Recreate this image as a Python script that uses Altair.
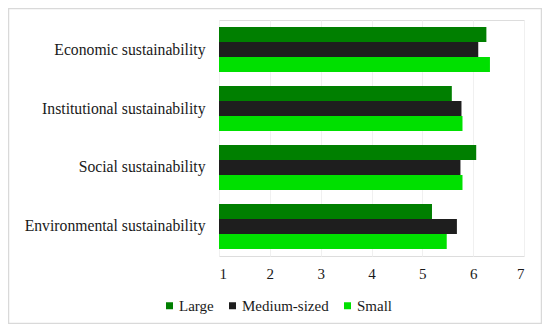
import altair as alt
import pandas as pd

categories = ["Economic sustainability", "Institutional sustainability",
              "Social sustainability", "Environmental sustainability"]
sizes = ["Large", "Medium-sized", "Small"]
large = [6.26, 5.58, 6.06, 5.19]
medium = [6.10, 5.77, 5.75, 5.68]
small = [6.33, 5.79, 5.79, 5.48]
colors = ["#007f00", "#1e1e1e", "#00e000"]
x_ticks = [1, 2, 3, 4, 5, 6, 7]

rows = []
for i, c in enumerate(categories):
    for s, vals in zip(sizes, [large, medium, small]):
        rows.append({"category": c, "size": s, "value": vals[i], "base": 1})
df = pd.DataFrame(rows)

FONT = "Liberation Serif"

bars = alt.Chart(df).mark_bar(size=15).encode(
    y=alt.Y("category:N", sort=categories,
            scale=alt.Scale(paddingInner=0.237, paddingOuter=0.119),
            axis=alt.Axis(title=None, ticks=False, domain=False, labelPadding=14,
                          labelFontSize=15.7, labelFont=FONT, labelColor="#1a1a1a",
                          labelLimit=300)),
    yOffset=alt.YOffset("size:N", sort=sizes, scale=alt.Scale(paddingInner=0, paddingOuter=0)),
    x=alt.X("base:Q", scale=alt.Scale(domain=[1, 7], nice=False, zero=False),
            axis=alt.Axis(title=None, values=x_ticks, ticks=False, domain=False,
                          labelPadding=10, labelFontSize=15, labelFont=FONT,
                          labelColor="#1a1a1a", grid=True, gridColor="#f0f0f0")),
    x2="value:Q",
    color=alt.Color("size:N", sort=sizes,
                    scale=alt.Scale(domain=sizes, range=colors),
                    legend=alt.Legend(title=None, orient="none", direction="horizontal",
                                      legendX=-57, legendY=278, symbolType="square",
                                      symbolSize=49, symbolStrokeWidth=0,
                                      labelFontSize=15, labelFont=FONT,
                                      labelColor="#1a1a1a", labelOffset=2,
                                      columnPadding=11)),
)

frame = alt.Chart(pd.DataFrame({"a": [0]})).mark_rect(
    fill=None, stroke="#d9d9d9", strokeWidth=1.5
).encode(
    x=alt.value(-210.5), x2=alt.value(322.5),
    y=alt.value(-11.5), y2=alt.value(303.5),
)

chart = alt.layer(frame, bars).properties(
    width=305, height=236,
    autosize=alt.AutoSizeParams(type="none"),
    padding={"left": 211, "top": 12, "right": 18, "bottom": 68},
).configure_view(stroke=None).configure(background="white", font=FONT)

chart.save("out.html", embed_options={"renderer": "svg", "actions": False})
